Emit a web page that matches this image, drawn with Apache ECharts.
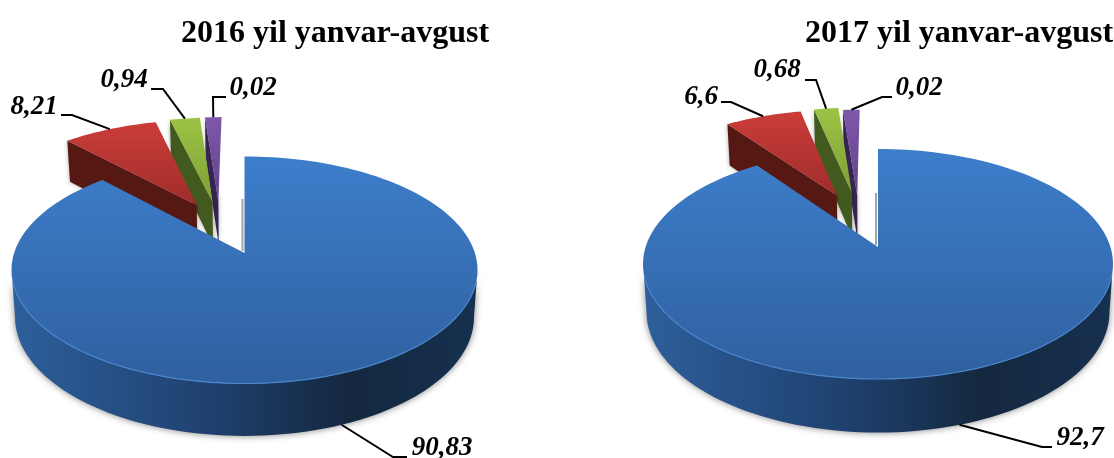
<!DOCTYPE html>
<html>
<head>
<meta charset="utf-8">
<title>2016-2017 yil yanvar-avgust</title>
<style>
  html, body { margin: 0; padding: 0; background: #fff; }
  #main { width: 1114px; height: 458px; }
</style>
<script src="https://cdn.jsdelivr.net/npm/echarts@6/dist/echarts.min.js"></script>
</head>
<body>
<div id="main"></div>
<script>
// printed labels
const values2016 = [90.83, 8.21, 0.94, 0.02];
const values2017 = [92.7, 6.6, 0.68, 0.02];
// slice sizes as actually drawn in the picture (tiny slices are drawn wider than their label)
const shares2016 = [88.0, 8.05, 2.55, 1.4];
const shares2017 = [90.1, 6.45, 2.05, 1.4];
const titles = ["2016 yil yanvar-avgust", "2017 yil yanvar-avgust"];

const colors = [
  { top: ["#3d7ecb", "#2f609f"], wall: "#551813" },
  { top: ["#cb3d39", "#9f2c2a"], wall: "#551813" },
  { top: ["#9dc345", "#7d9f36"], wall: "#435a1f" },
  { top: ["#7d58aa", "#62428a"], wall: "#352550" },
];
const order = [4, 3, 2, 1]; // blue is painted last, purple first

const layout2016 = {
  cx: 244.5, cy: 270, rx: 233, ry: 113.5, persp: -0.15, depth: 47,
  pull: [[0, 0], [-0.222, -0.463], [-0.149, -0.494], [-0.122, -0.5]],
  labelAt: [[442, 448], [34, 107], [124, 80], [253, 88]],
  elbow: [[[393, 457], [407, 457]], [[72, 115], [61, 115]], [[163, 89], [151, 89]], [[213, 97], [226, 97]]],
};
const layout2017 = {
  cx: 878, cy: 264, rx: 235, ry: 115, persp: -0.148, depth: 48,
  pull: [[0, 0], [-0.19, -0.49], [-0.121, -0.516], [-0.096, -0.49]],
  labelAt: [[1080, 438], [701, 97], [777, 70], [919, 88]],
  elbow: [[[1042, 447], [1052, 447]], [[731, 102], [721, 102]], [[816, 80], [805, 80]], [[882, 97], [892, 97]]],
};

// unit disc -> screen, with perspective. h=1 gives the lower face of the disc
function project(x, y, lay, h) {
  const k = Math.sqrt(1 - lay.persp * lay.persp);
  const d = 1 + lay.persp * y;
  const X = (x * k) / d;
  const Y = (y + lay.persp) / d;
  if (!h) return [lay.cx + lay.rx * X, lay.cy + lay.ry * Y];
  return [lay.cx + lay.rx * X * 0.985, lay.cy + lay.ry * Y + lay.depth * (1 + 0.115 * Y)];
}

function arcPoint(i, deg, lay, h) {
  const a = (deg * Math.PI) / 180;
  return project(lay.pull[i][0] + Math.sin(a), lay.pull[i][1] - Math.cos(a), lay, h);
}

function arcPoints(i, from, to, lay, h) {
  const pts = [];
  const n = Math.max(2, Math.ceil(Math.abs(to - from) / 2));
  for (let j = 0; j <= n; j++) pts.push(arcPoint(i, from + ((to - from) * j) / n, lay, h));
  return pts;
}

function makeRender(shares, values, lay) {
  const total = shares.reduce((a, b) => a + b, 0);
  return function (params, api) {
    const i = params.dataIndex;
    const sweep = (api.value(0) / total) * 360;
    let from = 0;
    for (let j = 0; j < i; j++) from += (shares[j] / total) * 360;
    const to = from + sweep;
    const mid = (from + to) / 2;
    const apex = project(lay.pull[i][0], lay.pull[i][1], lay);
    const apexLow = project(lay.pull[i][0], lay.pull[i][1], lay, 1);
    const arc = arcPoints(i, from, to, lay);
    const z = order[i];
    const kids = [];

    if (i === 0) {
      // outer wall of the big slice, only the half that faces the viewer
      const edge = (Math.acos(lay.persp) * 180) / Math.PI;
      const front = arcPoints(i, edge, 360 - edge, lay);
      const low = arcPoints(i, edge, 360 - edge, lay, 1);
      kids.push({
        type: "polygon",
        z2: z,
        shape: { points: front.concat(low.reverse()) },
        style: {
          fill: new echarts.graphic.LinearGradient(0, 0, 1, 0, [
            { offset: 0, color: "#2e5f9c" },
            { offset: 0.45, color: "#1e3f6c" },
            { offset: 0.72, color: "#14283f" },
            { offset: 1, color: "#16304f" },
          ]),
          shadowBlur: 7,
          shadowColor: "rgba(0,0,0,0.5)",
        },
      });
      // thin dark sliver beside the vertical cut
      kids.push({
        type: "polyline",
        z2: z,
        shape: { points: [[apex[0] - 2, apex[1] - 2], [apex[0] - 2, apex[1] - 54]] },
        style: { fill: null, stroke: "rgba(90,90,90,0.55)", lineWidth: 2 },
      });
    } else {
      // cut face on the left edge of the pulled slices
      const corner = arcPoint(i, from, lay);
      const cornerLow = arcPoint(i, from, lay, 1);
      kids.push({
        type: "polygon",
        z2: z,
        shape: { points: [corner, apex, apexLow, cornerLow] },
        style: { fill: colors[i].wall, shadowBlur: 4, shadowColor: "rgba(0,0,0,0.35)" },
      });
    }

    kids.push({
      type: "polygon",
      z2: z,
      shape: { points: [apex].concat(arc) },
      style: {
        fill: new echarts.graphic.LinearGradient(0, 0, 0, 1, [
          { offset: 0, color: colors[i].top[0] },
          { offset: 1, color: colors[i].top[1] },
        ]),
      },
    });

    if (i === 0) {
      // light rim on the front edge
      kids.push({
        type: "polyline",
        z2: z,
        shape: { points: arcPoints(i, 105, 255, lay) },
        style: { fill: null, stroke: "#4a86cc", lineWidth: 1.2 },
      });
    }

    // leader line and label
    const anchor = arcPoint(i, mid, lay, i === 0 ? 1 : 0);
    kids.push({
      type: "polyline",
      z2: 9,
      shape: { points: [anchor].concat(lay.elbow[i]) },
      style: { fill: null, stroke: "#000", lineWidth: 2 },
    });
    kids.push({
      type: "text",
      z2: 9,
      style: {
        x: lay.labelAt[i][0],
        y: lay.labelAt[i][1],
        text: String(values[i]).replace(".", ","),
        font: 'italic bold 27px "Liberation Serif"',
        fill: "#000",
        align: "center",
        verticalAlign: "middle",
      },
    });
    return { type: "group", children: kids };
  };
}

const myChart = echarts.init(document.querySelector("#main"));
const option = {
  animation: false,
  backgroundColor: "#fff",
  title: [
    { text: titles[0], left: 176, top: 13, textStyle: { fontFamily: "Liberation Serif", fontWeight: "bold", fontSize: 32, color: "#000" } },
    { text: titles[1], left: 800, top: 13, textStyle: { fontFamily: "Liberation Serif", fontWeight: "bold", fontSize: 32, color: "#000" } },
  ],
  series: [
    {
      type: "custom",
      coordinateSystem: "none",
      silent: true,
      renderItem: makeRender(shares2016, values2016, layout2016),
      data: shares2016.map((s, i) => [s, values2016[i]]),
    },
    {
      type: "custom",
      coordinateSystem: "none",
      silent: true,
      renderItem: makeRender(shares2017, values2017, layout2017),
      data: shares2017.map((s, i) => [s, values2017[i]]),
    },
  ],
};
myChart.setOption(option);
</script>
</body>
</html>
